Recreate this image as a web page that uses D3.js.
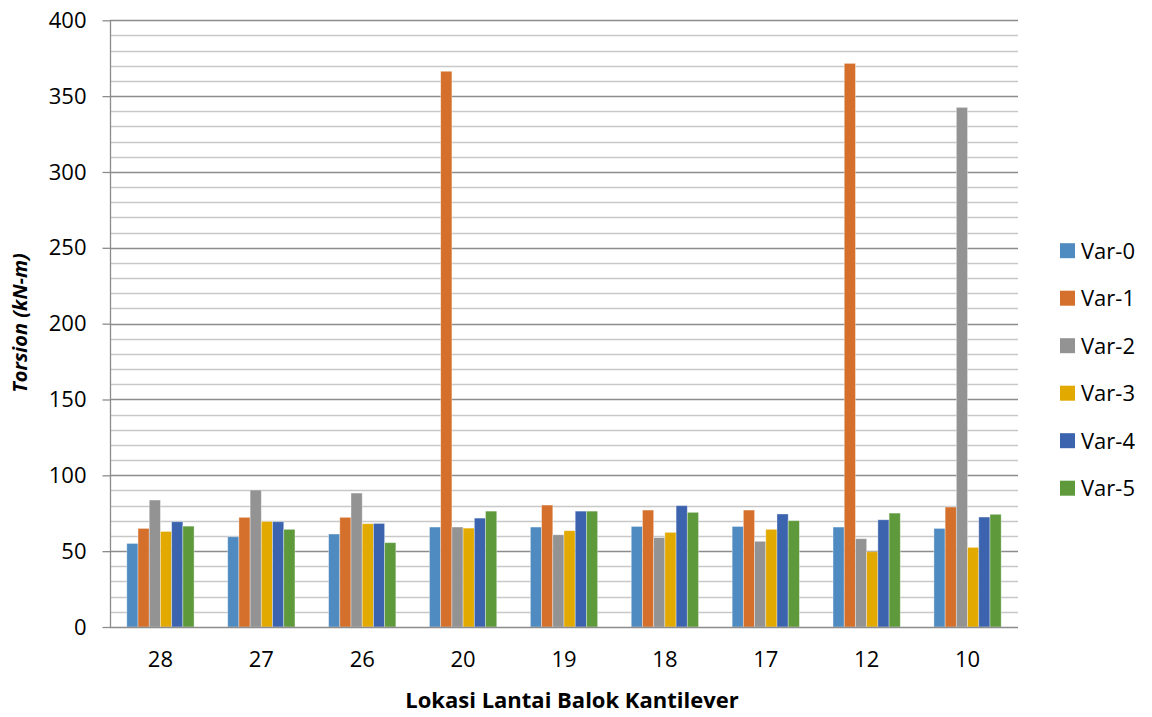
<!DOCTYPE html>
<html>
<head>
<meta charset="utf-8">
<script src="https://cdn.jsdelivr.net/npm/d3@7"></script>
<style>
  html, body { margin: 0; padding: 0; background: #fff; }
  svg { display: block; }
  text { font-family: "Open Sans", "DejaVu Sans", sans-serif; fill: #000; }
</style>
</head>
<body>
<svg id="chart" width="1152" height="717"></svg>
<script>
const categories = ["28", "27", "26", "20", "19", "18", "17", "12", "10"];
const seriesNames = ["Var-0", "Var-1", "Var-2", "Var-3", "Var-4", "Var-5"];
const var0 = [55.1, 59.5, 61.3, 65.9, 65.9, 66.3, 66.3, 65.9, 65.0];
const var1 = [65.0, 72.3, 72.3, 366.4, 80.4, 77.1, 77.1, 371.6, 79.1];
const var2 = [83.7, 90.3, 88.3, 65.9, 60.8, 58.9, 56.5, 58.2, 342.6];
const var3 = [63.0, 69.6, 68.1, 65.2, 63.5, 62.4, 64.4, 49.6, 52.5];
const var4 = [69.4, 69.4, 68.3, 71.8, 76.4, 80.0, 74.5, 70.7, 72.5];
const var5 = [66.5, 64.4, 55.6, 76.4, 76.4, 75.6, 70.1, 75.1, 74.3];
const seriesValues = [var0, var1, var2, var3, var4, var5];
const colors = ["#4F8BC0", "#D4702C", "#939393", "#E2A900", "#3C64AE", "#5E9A3C"];
const yTicks = [0, 50, 100, 150, 200, 250, 300, 350, 400];
const yMinor = d3.range(0, 401, 10);

const svg = d3.select("#chart");
const plotLeft = 110, plotRight = 1018, plotTop = 20.3, plotBottom = 627;

const x0 = d3.scaleBand().domain(categories).range([plotLeft, plotRight])
  .paddingInner(1/3).paddingOuter(1/6);
const x1 = d3.scaleBand().domain(seriesNames).range([0, x0.bandwidth()]).padding(0);
const y = d3.scaleLinear().domain([0, 400]).range([plotBottom, plotTop]);

// minor gridlines
svg.append("g").selectAll("line").data(yMinor.filter(v => v % 50 !== 0)).join("line")
  .attr("x1", plotLeft).attr("x2", plotRight)
  .attr("y1", d => Math.round(y(d)) + 0.5).attr("y2", d => Math.round(y(d)) + 0.5)
  .attr("stroke", "#C8C8C8").attr("stroke-width", 1.3);

// major gridlines
svg.append("g").selectAll("line").data(yTicks.filter(v => v > 0)).join("line")
  .attr("x1", plotLeft).attr("x2", plotRight)
  .attr("y1", d => Math.round(y(d)) + 0.5).attr("y2", d => Math.round(y(d)) + 0.5)
  .attr("stroke", "#8C8C8C").attr("stroke-width", 1.3);

// bars
const groups = svg.append("g").selectAll("g").data(categories).join("g")
  .attr("transform", d => `translate(${x0(d)},0)`);
groups.selectAll("rect")
  .data((c, i) => seriesNames.map((s, j) => ({ s, j, v: seriesValues[j][i] })))
  .join("rect")
  .attr("x", d => x1(d.s))
  .attr("width", x1.bandwidth())
  .attr("y", d => y(d.v))
  .attr("height", d => y(0) - y(d.v))
  .attr("fill", d => colors[d.j])
  .attr("stroke", "rgba(255,255,255,0.45)")
  .attr("stroke-width", 0.8);

// y axis
const yAxis = d3.axisLeft(y).tickValues(yTicks).tickSize(8).tickPadding(16);
const gy = svg.append("g").attr("transform", `translate(${plotLeft + 0.5},0)`).call(yAxis);
gy.select(".domain").attr("stroke", "#8C8C8C").attr("stroke-width", 1.3)
  .attr("d", `M0,${y(400)}V${y(0)}`);
gy.selectAll(".tick line").attr("stroke", "#8C8C8C").attr("stroke-width", 1.3);
gy.selectAll(".tick text").style("font-size", "22px").attr("fill", "#000");

// x axis
const xAxis = d3.axisBottom(x0).tickSize(0).tickPadding(24);
const gx = svg.append("g").attr("transform", `translate(0,${Math.round(y(0)) + 0.5})`).call(xAxis);
gx.select(".domain").attr("stroke", "#8C8C8C").attr("stroke-width", 1.3)
  .attr("d", `M${plotLeft},0H${plotRight}`);
gx.selectAll(".tick text").style("font-size", "22px").attr("fill", "#000");

// axis titles
svg.append("text")
  .attr("x", (plotLeft + plotRight) / 2 + 8).attr("y", 708)
  .attr("text-anchor", "middle")
  .style("font-size", "22px").style("font-weight", "bold")
  .text("Lokasi Lantai Balok Kantilever");

svg.append("text")
  .attr("transform", "translate(27,323) rotate(-90)")
  .attr("text-anchor", "middle")
  .style("font-size", "20px").style("font-weight", "bold").style("font-style", "italic")
  .text("Torsion (kN-m)");

// legend
const legend = svg.append("g").selectAll("g").data(seriesNames).join("g")
  .attr("transform", (d, i) => `translate(1060,${250.7 + i * 47.5})`);
legend.append("rect").attr("x", 0).attr("y", -7.5).attr("width", 15).attr("height", 15)
  .attr("fill", (d, i) => colors[i]);
legend.append("text").attr("x", 21).attr("y", 0).attr("dy", "0.36em")
  .style("font-size", "22px").text(d => d);
</script>
</body>
</html>
